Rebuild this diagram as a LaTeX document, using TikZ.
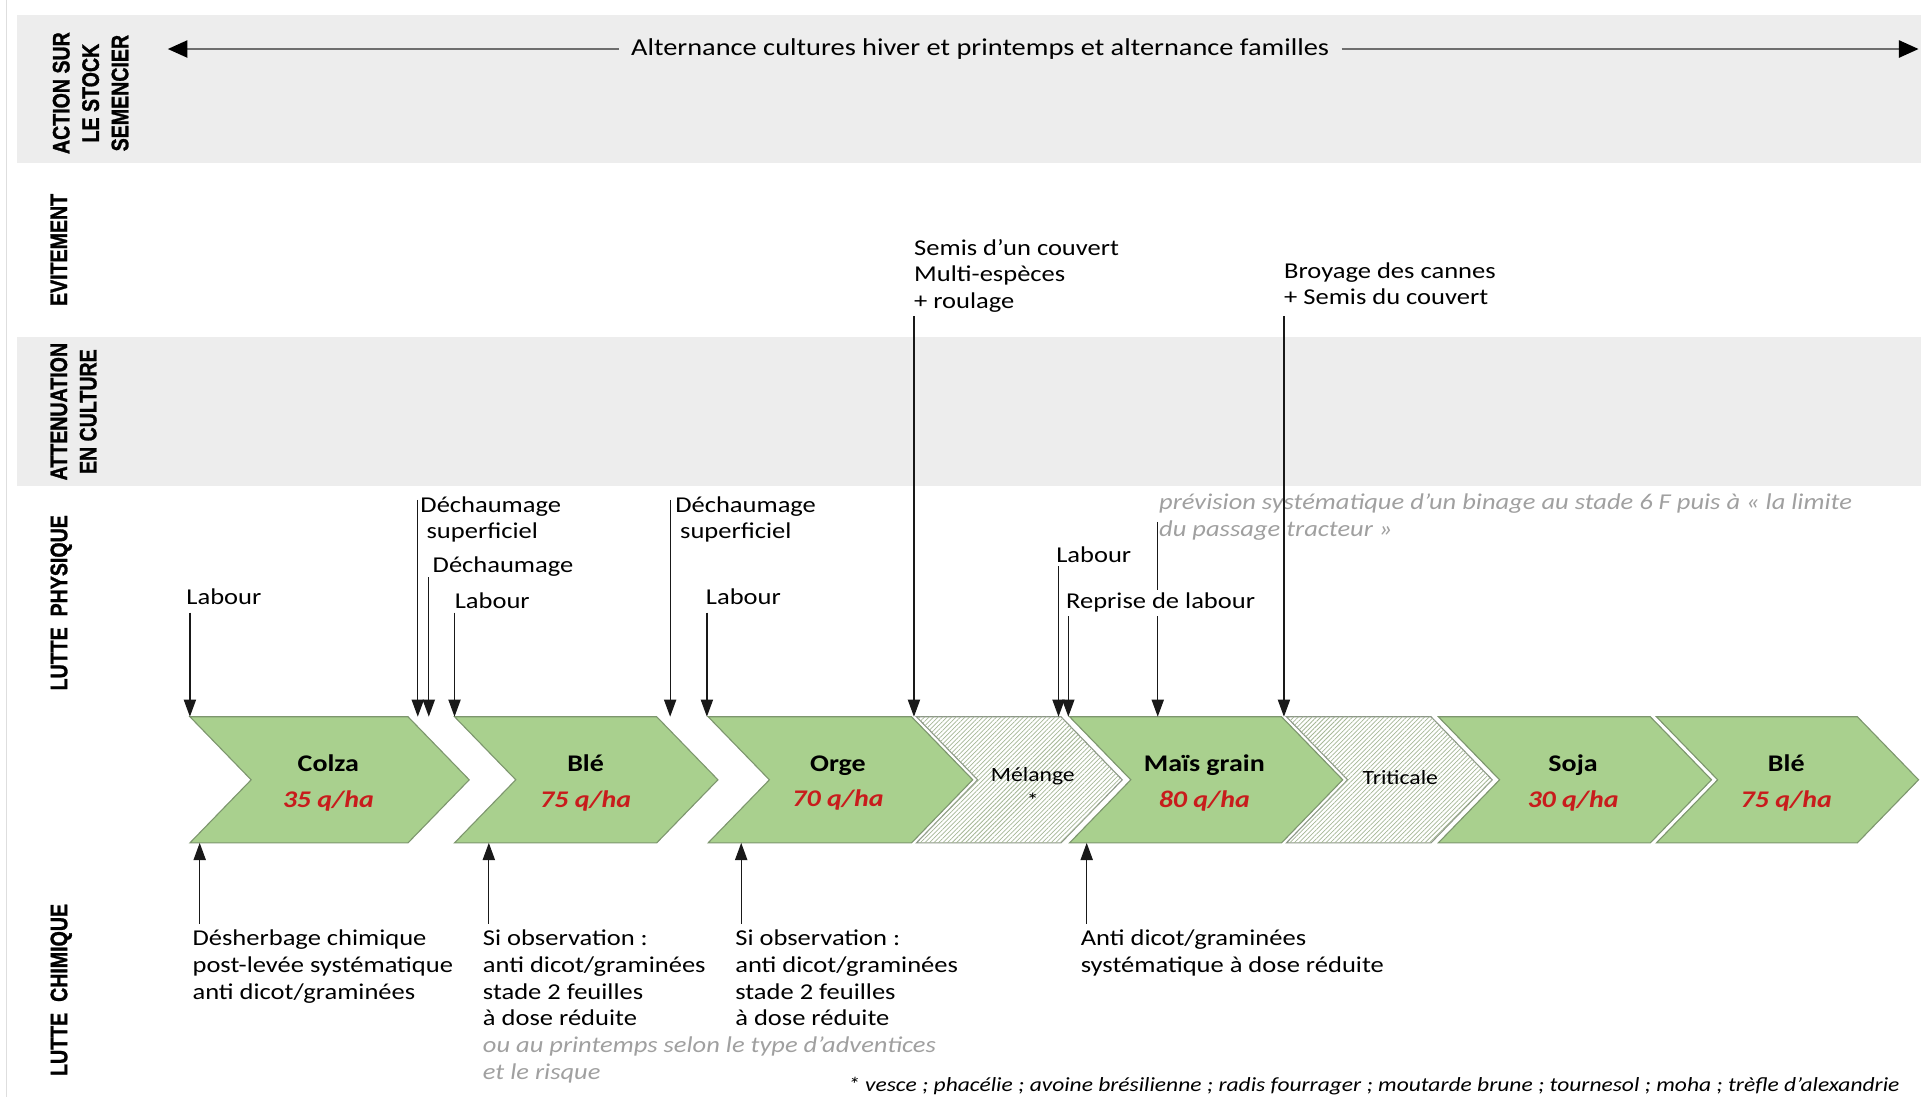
\documentclass[tikz,border=0pt]{standalone}
\usepackage{fontspec}
\setmainfont{Carlito}[FakeStretch=1.17]
\newfontfamily\rowfont{Liberation Sans}[UprightFont={* Bold}, FakeStretch=0.82, FakeBold=1.2]
\usetikzlibrary{arrows.meta,patterns.meta}
\definecolor{bandgray}{RGB}{237,237,237}
\definecolor{chevgreen}{RGB}{169,208,142}
\definecolor{chevborder}{RGB}{125,150,110}
\definecolor{hatchcol}{RGB}{165,183,150}
\definecolor{hatchborder}{RGB}{140,150,135}
\definecolor{yieldred}{RGB}{200,28,28}
\definecolor{notegray}{RGB}{160,160,160}
\definecolor{linegray}{RGB}{110,110,110}
\definecolor{arrowcol}{RGB}{25,25,25}
\definecolor{faintline}{RGB}{222,222,222}

\newcommand\greenchev[2]{\draw[greenchevstyle] (#1,585) -- (#2,585) -- ({#2+50},636.5) -- (#2,688) -- (#1,688) -- ({#1+50},636.5) -- cycle;}
\newcommand\hatchchev[2]{\draw[hatchchevstyle] (#1,585) -- (#2,585) -- ({#2+50},636.5) -- (#2,688) -- (#1,688) -- ({#1+50},636.5) -- cycle;}
\newcommand\yield[1]{\textcolor{yieldred}{\bfseries\itshape #1}}

\begin{document}
\begin{tikzpicture}[x=1pt,y=-1pt,
  greenchevstyle/.style={fill=chevgreen, draw=chevborder, line width=0.9pt, line join=miter},
  hatchchevstyle/.style={fill=white, draw=hatchborder, line width=0.9pt,
     postaction={pattern={Lines[angle=45,distance=2.6pt,line width=0.6pt]}, pattern color=hatchcol}},
  rowlabel/.style={rotate=90, align=center, inner sep=0pt, font=\rowfont\fontsize{19.5}{24}\selectfont},
  lbl/.style={anchor=north west, inner sep=0pt, align=left, font=\fontsize{18.5}{21.7}\selectfont, execute at begin node=\strut},
  note/.style={lbl, text=notegray, font=\itshape\fontsize{18.5}{21.7}\selectfont},
  crop/.style={align=center, inner sep=0pt, font=\bfseries\fontsize{19.5}{29}\selectfont},
  mix/.style={align=center, inner sep=0pt, font=\fontsize{16.5}{21}\selectfont},
  toptext/.style={fill=bandgray, inner xsep=10pt, inner ysep=2pt, font=\fontsize{19.8}{24}\selectfont},
  toparr/.style={draw=linegray, line width=1.6pt, -{Triangle[length=16pt,width=14pt,color=black,fill=black]}},
  arr/.style={draw=arrowcol, line width=1pt, -{Triangle[length=14pt,width=10pt]}},
  faint/.style={draw=faintline, line width=1pt}
]
\useasboundingbox (0,0) rectangle (1568,895);

% bands
\fill[bandgray] (14,12) rectangle (1568,133);
\fill[bandgray] (14,275) rectangle (1568,397);
\draw[faint] (5,0) -- (5,895);

% row labels
\node[rowlabel] (rACT) at (74,76) {ACTION SUR\\LE STOCK\\SEMENCIER};
\node[rowlabel] (rEVI) at (48,204) {EVITEMENT};
\node[rowlabel] (rATT) at (60,336) {ATTENUATION\\EN CULTURE};
\node[rowlabel] (rPHY) at (50,492) {LUTTE\ \ PHYSIQUE};
\node[rowlabel] (rCHI) at (50,808) {LUTTE\ \ CHIMIQUE};

% top double arrow
\node[toptext] (alt) at (800,40) {Alternance cultures hiver et printemps et alternance familles};
\coordinate (altL) at (137,40);
\coordinate (altR) at (1566,40);
\draw[toparr] (alt.west) -- (altL);
\draw[toparr] (alt.east) -- (altR);

% chevrons
\greenchev{155}{333}
\greenchev{371}{536}
\greenchev{578}{744}
\hatchchev{748}{866}
\greenchev{873}{1046}
\hatchchev{1050}{1168}
\greenchev{1174}{1347}
\greenchev{1352}{1516}

\node[crop] (cColza) at (268,639) {Colza\\\yield{35 q/ha}};
\node[crop] (cBleA) at (478,639) {Blé\\\yield{75 q/ha}};
\node[crop] (cOrge) at (684,639) {Orge\\\yield{70 q/ha}};
\node[mix] (cMel) at (843,643) {Mélange\\*};
\node[crop] (cMais) at (983,639) {Maïs grain\\\yield{80 q/ha}};
\node[mix] (cTri) at (1143,635) {Triticale};
\node[crop] (cSoja) at (1284,639) {Soja\\\yield{30 q/ha}};
\node[crop] (cBleB) at (1458,639) {Blé\\\yield{75 q/ha}};

% physical labels (top)
\node[lbl] (lab1) at (152,478) {Labour};
\node[lbl] (dech1) at (343,405) {Déchaumage\\\hspace*{5pt}superficiel};
\node[lbl] (dech2) at (353,452) {Déchaumage};
\node[lbl] (lab2) at (371,481) {Labour};
\node[lbl] (dech3) at (551,405) {Déchaumage\\\hspace*{4pt}superficiel};
\node[lbl] (lab3) at (576,478) {Labour};
\node[lbl] (semis) at (746,195) {Semis d’un couvert\\Multi-espèces\\+ roulage};
\node[lbl] (broy) at (1048,214) {Broyage des cannes\\+ Semis du couvert};
\node[lbl] (lab4) at (862,444) {Labour};
\node[note] (prev) at (946,403) {prévision systématique d’un binage au stade 6 F puis à « la limite\\du passage tracteur »};

% chemical labels (bottom)
\node[lbl] (des) at (157,759) {Désherbage chimique\\post-levée systématique\\anti dicot/graminées};
\node[lbl] (siA) at (394,759) {Si observation :\\anti dicot/graminées\\stade 2 feuilles\\à dose réduite};
\node[note] (ou) at (394,846) {ou au printemps selon le type d’adventices\\et le risque};
\node[lbl] (siB) at (600,759) {Si observation :\\anti dicot/graminées\\stade 2 feuilles\\à dose réduite};
\node[lbl] (anti) at (882,759) {Anti dicot/graminées\\systématique à dose réduite};
\node[anchor=base west, inner sep=0pt, font=\itshape\fontsize{16.4}{19}\selectfont] (foot) at (692,891) {* vesce ; phacélie ; avoine brésilienne ; radis fourrager ; moutarde brune ; tournesol ; moha ; trèfle d’alexandrie};

% arrow coordinates (top, downward)
\coordinate (s1) at (155,500);  \coordinate (e1) at (155,585);
\coordinate (s2) at (341,408);  \coordinate (e2) at (341,585);
\coordinate (s3) at (350,471);  \coordinate (e3) at (350,585);
\coordinate (s4) at (371,500);  \coordinate (e4) at (371,585);
\coordinate (s5) at (547,408);  \coordinate (e5) at (547,585);
\coordinate (s6) at (577,500);  \coordinate (e6) at (577,585);
\coordinate (s7) at (746,258);  \coordinate (e7) at (746,585);
\coordinate (s8) at (864,462);  \coordinate (e8) at (864,585);
\coordinate (s9) at (872,503);  \coordinate (e9) at (872,585);
\coordinate (s10) at (945,426); \coordinate (e10) at (945,585);
\coordinate (s11) at (1048,258); \coordinate (e11) at (1048,585);
\foreach \i in {1,...,11} {\draw[arr] (s\i) -- (e\i);}

% "Reprise de labour" drawn over the binage arrow
\node[lbl, fill=white] (rep) at (870,481) {Reprise de labour};

% arrow coordinates (bottom, upward)
\coordinate (u1) at (163,754); \coordinate (v1) at (163,688);
\coordinate (u2) at (399,754); \coordinate (v2) at (399,688);
\coordinate (u3) at (605,754); \coordinate (v3) at (605,688);
\coordinate (u4) at (887,754); \coordinate (v4) at (887,688);
\foreach \i in {1,...,4} {\draw[arr] (u\i) -- (v\i);}
\end{tikzpicture}
\end{document}
